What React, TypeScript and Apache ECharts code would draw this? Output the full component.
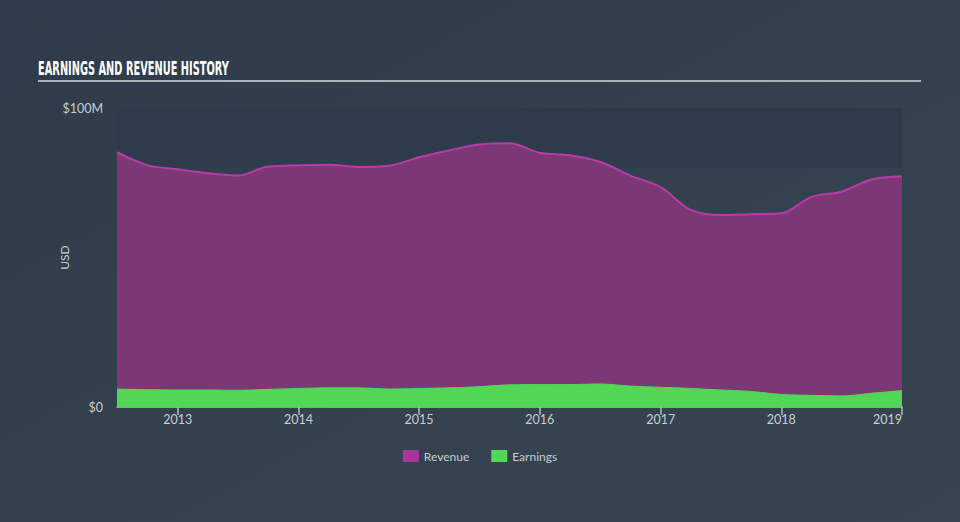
import React, { useEffect, useRef } from "react";
import * as echarts from "echarts";

const quarters = [
  "2012-07-01", "2012-10-01", "2013-01-01", "2013-04-01", "2013-07-01", "2013-10-01",
  "2014-01-01", "2014-04-01", "2014-07-01", "2014-10-01", "2015-01-01", "2015-04-01",
  "2015-07-01", "2015-10-01", "2016-01-01", "2016-04-01", "2016-07-01", "2016-10-01",
  "2017-01-01", "2017-04-01", "2017-07-01", "2017-10-01", "2018-01-01", "2018-04-01",
  "2018-07-01", "2018-10-01", "2019-01-01",
];

// USD millions
const revenue = [
  85.2, 80.9, 79.5, 78.2, 77.4, 80.4, 80.8, 81.0, 80.3, 80.7, 83.5, 85.8, 87.8, 88.2,
  85.0, 84.2, 82.0, 77.4, 73.5, 66.0, 64.2, 64.5, 64.8, 70.2, 72.0, 76.1, 77.2,
];

const earnings = [
  6.0, 5.8, 5.7, 5.7, 5.6, 5.9, 6.2, 6.4, 6.4, 6.0, 6.2, 6.4, 6.8, 7.4, 7.5, 7.5, 7.7,
  7.0, 6.6, 6.2, 5.7, 5.2, 4.2, 3.9, 3.7, 4.6, 5.5,
];

const yTicks = [0, 100];
const bandRange = [80, 100];
const titleText = "EARNINGS AND REVENUE HISTORY";

export default function App() {
  const ref = useRef<HTMLDivElement>(null);

  useEffect(() => {
    document.body.style.margin = "0";
    if (!ref.current) return;
    const chart = echarts.init(ref.current, null, { renderer: "svg" });

    const titleFont = 'bold 20px "Liberation Sans Narrow", "DejaVu Sans Condensed", "Roboto", sans-serif';
    let scaleX = 0.7;
    try {
      const c = document.createElement("canvas").getContext("2d");
      if (c) {
        c.font = titleFont;
        const w = c.measureText(titleText).width;
        if (w > 0) scaleX = 191 / w;
      }
    } catch (e) {}

    const labelFont = "Lato, 'Open Sans', sans-serif";

    chart.setOption({
      animation: false,
      backgroundColor: {
        type: "linear",
        x: 0, y: 0, x2: 1, y2: 1,
        colorStops: [
          { offset: 0, color: "#2f3b4a" },
          { offset: 1, color: "#374551" },
        ],
      },
      graphic: [
        {
          type: "text",
          x: 38,
          y: 58,
          scaleX: scaleX,
          style: {
            text: titleText,
            font: titleFont,
            fill: "#ffffff",
          },
        },
        {
          type: "line",
          shape: { x1: 38, y1: 81, x2: 921, y2: 81 },
          style: { stroke: "#aab1b9", lineWidth: 2 },
        },
      ],
      grid: { left: 117, right: 58, top: 108, bottom: 115 },
      legend: {
        bottom: 55,
        left: "center",
        icon: "rect",
        itemWidth: 16,
        itemHeight: 12,
        itemGap: 22,
        textStyle: { color: "#c8cdd2", fontSize: 12, fontFamily: labelFont },
        data: ["Revenue", "Earnings"],
      },
      xAxis: {
        type: "time",
        min: quarters[0],
        max: quarters[quarters.length - 1],
        splitNumber: 6,
        axisLine: { show: true, lineStyle: { color: "#b3bac2", width: 1.5 } },
        axisTick: { show: true, length: 8, lineStyle: { color: "#b3bac2", width: 1.5 } },
        splitLine: { show: false },
        axisLabel: {
          color: "#c8cdd2",
          fontSize: 12.5,
          fontFamily: labelFont,
          margin: 6,
          formatter: "{yyyy}",
          showMinLabel: false,
          showMaxLabel: true,
          alignMaxLabel: "right",
        },
      },
      yAxis: {
        type: "value",
        min: yTicks[0],
        max: yTicks[yTicks.length - 1],
        interval: 100,
        name: "USD",
        nameLocation: "middle",
        nameRotate: 90,
        nameGap: 47,
        nameMoveOverlap: false,
        nameTextStyle: { color: "#c8cdd2", fontSize: 12, fontFamily: labelFont },
        axisLine: { show: false },
        axisTick: { show: false },
        splitLine: { show: false },
        axisLabel: {
          color: "#c8cdd2",
          fontSize: 12.5,
          fontFamily: labelFont,
          margin: 14,
          formatter: (v: number) => (v === 0 ? "$0" : "$" + v + "M"),
        },
      },
      series: [
        {
          name: "Revenue",
          type: "line",
          data: quarters.map((d, i) => [d, revenue[i]]),
          smooth: 0.35,
          symbol: "none",
          itemStyle: { color: "#a8379c" },
          lineStyle: { color: "#b93aa9", width: 2 },
          areaStyle: { color: "#7b3875", opacity: 1 },
          z: 2,
          markArea: {
            silent: true,
            itemStyle: { color: "#2d3b4a", opacity: 1 },
            data: [[{ yAxis: bandRange[0] }, { yAxis: bandRange[1] }]],
            z: 0,
          },
        },
        {
          name: "Earnings",
          type: "line",
          data: quarters.map((d, i) => [d, earnings[i]]),
          smooth: 0.35,
          symbol: "none",
          itemStyle: { color: "#53d655" },
          lineStyle: { color: "#53d655", width: 1 },
          areaStyle: { color: "#53d655", opacity: 1 },
          z: 3,
        },
      ],
    });

    return () => chart.dispose();
  }, []);

  return <div ref={ref} style={{ width: 960, height: 522 }} />;
}
